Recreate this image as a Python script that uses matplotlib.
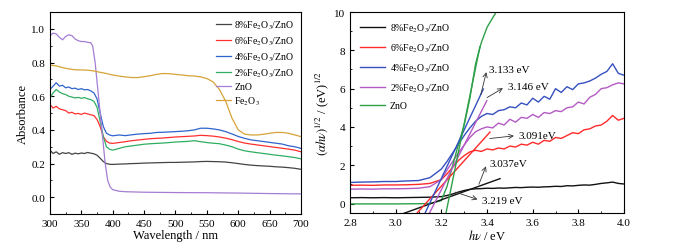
import matplotlib
matplotlib.use("Agg")
import matplotlib.pyplot as plt
from matplotlib.ticker import MultipleLocator

plt.rcParams.update({
    "font.family": "Liberation Serif",
    "mathtext.fontset": "stix",
    "font.size": 8,
    "xtick.direction": "in",
    "ytick.direction": "in",
    "axes.linewidth": 0.8,
})

# ---- left panel: UV-vis absorbance ----
labels_abs = [r"8%Fe$_2$O$_3$/ZnO", r"6%Fe$_2$O$_3$/ZnO", r"4%Fe$_2$O$_3$/ZnO",
              r"2%Fe$_2$O$_3$/ZnO", "ZnO", r"Fe$_2$O$_3$"]
colors_abs = ["#444444", "#ff3030", "#2f64cc", "#2fae62", "#a57ed4", "#d6a338"]

wl_doped = [300, 305, 310, 315, 320, 325, 330, 335, 340, 345, 350, 355, 360, 365, 370, 375,
            380, 385, 390, 395, 400, 410, 420, 430, 440, 450, 460, 470, 480, 490, 500, 510,
            520, 530, 540, 550, 560, 570, 580, 590, 600, 610, 620, 630, 640, 650, 660, 670,
            680, 690, 700]
abs_8 = [0.28, 0.26, 0.27, 0.255, 0.265, 0.26, 0.265, 0.255, 0.262, 0.258, 0.263, 0.26, 0.266, 0.262, 0.258, 0.25,
         0.232, 0.212, 0.2, 0.196, 0.195, 0.197, 0.198, 0.2, 0.201, 0.203, 0.204, 0.205, 0.206, 0.207, 0.207, 0.208,
         0.209, 0.21, 0.212, 0.213, 0.212, 0.211, 0.209, 0.205, 0.2, 0.195, 0.191, 0.188, 0.186, 0.184, 0.181, 0.179,
         0.176, 0.172, 0.166]
abs_6 = [0.55, 0.53, 0.54, 0.525, 0.52, 0.515, 0.5, 0.505, 0.495, 0.498, 0.492, 0.5, 0.495, 0.49, 0.485, 0.462,
         0.42, 0.36, 0.332, 0.322, 0.32, 0.325, 0.33, 0.336, 0.34, 0.344, 0.348, 0.35, 0.352, 0.355, 0.358, 0.36,
         0.362, 0.364, 0.368, 0.366, 0.363, 0.358, 0.351, 0.342, 0.331, 0.322, 0.316, 0.311, 0.306, 0.301, 0.296, 0.291,
         0.286, 0.28, 0.27]
abs_4 = [0.64, 0.66, 0.68, 0.66, 0.665, 0.65, 0.655, 0.645, 0.648, 0.64, 0.645, 0.638, 0.64, 0.632, 0.62, 0.585,
         0.5, 0.42, 0.38, 0.37, 0.365, 0.37, 0.366, 0.371, 0.375, 0.378, 0.38, 0.385, 0.386, 0.388, 0.39, 0.392,
         0.395, 0.4, 0.41, 0.41, 0.406, 0.4, 0.39, 0.376, 0.361, 0.35, 0.341, 0.336, 0.331, 0.326, 0.321, 0.316,
         0.306, 0.3, 0.29]
abs_2 = [0.59, 0.62, 0.64, 0.625, 0.615, 0.61, 0.6, 0.595, 0.59, 0.593, 0.588, 0.592, 0.585, 0.58, 0.57, 0.535,
         0.45, 0.36, 0.3, 0.285, 0.28, 0.29, 0.3, 0.305, 0.31, 0.315, 0.318, 0.32, 0.322, 0.325, 0.328, 0.33,
         0.332, 0.336, 0.33, 0.325, 0.321, 0.318, 0.31, 0.3, 0.286, 0.276, 0.27, 0.265, 0.26, 0.255, 0.25, 0.246,
         0.241, 0.236, 0.228]

wl_zno = [300, 305, 310, 315, 320, 325, 330, 335, 340, 345, 350, 355, 360, 365, 368, 372,
          376, 380, 384, 388, 392, 396, 400, 410, 420, 450, 500, 550, 600, 650, 700]
abs_zno = [0.96, 0.975, 0.97, 0.95, 0.935, 0.955, 0.965, 0.96, 0.94, 0.93, 0.925, 0.925, 0.92, 0.918, 0.9, 0.8,
           0.65, 0.5, 0.35, 0.2, 0.1, 0.06, 0.045, 0.036, 0.033, 0.03, 0.028, 0.027, 0.025, 0.022, 0.02]

wl_fe = [300, 310, 320, 330, 340, 350, 360, 370, 380, 390, 400, 410, 420, 430, 440, 450,
         460, 470, 480, 490, 500, 510, 520, 530, 540, 550, 560, 570, 580, 590, 600, 610,
         620, 630, 640, 650, 660, 670, 680, 690, 700]
abs_fe = [0.785, 0.78, 0.77, 0.762, 0.757, 0.756, 0.755, 0.75, 0.742, 0.735, 0.726, 0.72, 0.715, 0.711, 0.711, 0.716,
          0.722, 0.73, 0.735, 0.734, 0.73, 0.726, 0.722, 0.72, 0.715, 0.705, 0.685, 0.64, 0.57, 0.47, 0.4, 0.375,
          0.37, 0.37, 0.374, 0.38, 0.385, 0.385, 0.38, 0.37, 0.36]

# ---- right panel: Tauc plot ----
labels_tauc = [r"8%Fe$_2$O$_3$/ZnO", r"6%Fe$_2$O$_3$/ZnO", r"4%Fe$_2$O$_3$/ZnO",
               r"2%Fe$_2$O$_3$/ZnO", "ZnO"]
colors_tauc = ["#111111", "#ff2a2a", "#3550c0", "#b45ac4", "#2ea04a"]

hv = [2.80, 2.85, 2.90, 2.95, 3.00, 3.05, 3.10, 3.15, 3.20,
      3.225, 3.25, 3.275, 3.30, 3.325, 3.35, 3.375, 3.40, 3.425, 3.45, 3.475, 3.50, 3.525, 3.55, 3.575,
      3.60, 3.625, 3.65, 3.675, 3.70, 3.725, 3.75, 3.775, 3.80, 3.825, 3.85, 3.875, 3.90, 3.925, 3.95, 3.975, 4.00]
tauc_8 = [0.30, 0.31, 0.30, 0.31, 0.30, 0.31, 0.32, 0.33, 0.36,
          0.42, 0.50, 0.60, 0.68, 0.74, 0.77, 0.78, 0.80, 0.79, 0.81, 0.80, 0.82, 0.84, 0.83, 0.85,
          0.86, 0.85, 0.87, 0.88, 0.90, 0.89, 0.93, 0.92, 0.95, 0.97, 0.96, 1.00, 1.05, 1.08, 1.12, 1.05, 1.02]
tauc_6 = [0.95, 0.96, 0.95, 0.97, 0.97, 0.98, 1.00, 1.05, 1.25,
          1.55, 1.90, 2.25, 2.50, 2.70, 2.78, 2.72, 2.85, 2.80, 2.90, 2.85, 3.00, 2.95, 3.10, 3.05,
          3.20, 3.10, 3.30, 3.25, 3.45, 3.40, 3.55, 3.70, 3.65, 3.85, 3.90, 4.05, 4.10, 4.30, 4.60, 4.35, 4.45]
tauc_4 = [1.10, 1.12, 1.13, 1.15, 1.15, 1.18, 1.20, 1.35, 1.80,
          2.20, 2.65, 3.10, 3.55, 3.95, 4.30, 4.55, 4.70, 4.65, 4.85, 4.90, 5.05, 5.00, 5.25, 5.15,
          5.50, 5.30, 5.60, 5.45, 6.00, 5.80, 6.10, 5.95, 6.25, 6.30, 6.40, 6.55, 6.75, 6.90, 7.30, 6.80, 6.70]
tauc_2 = [0.75, 0.76, 0.75, 0.77, 0.77, 0.78, 0.80, 0.88, 1.25,
          1.75, 2.20, 2.65, 3.05, 3.45, 3.75, 3.90, 4.00, 3.95, 4.20, 4.10, 4.40, 4.25, 4.50, 4.45,
          4.65, 4.50, 4.75, 4.70, 4.85, 4.80, 5.00, 5.05, 5.30, 5.20, 5.55, 5.70, 6.00, 6.05, 6.20, 6.30, 6.25]
hv_zno = [2.80, 3.00, 3.10, 3.15, 3.20, 3.225, 3.25, 3.275, 3.30, 3.325, 3.35, 3.375, 3.40, 3.425, 3.45]
tauc_zno = [-0.02, -0.02, -0.01, 0.0, 0.15, 0.9, 2.0, 3.1, 4.1, 5.5, 7.3, 8.4, 9.2, 9.7, 10.2]

# tangent lines (start hv, start y, end hv, end y), same order as labels_tauc
tan_x0 = [3.034, 3.092, 3.128, 3.147, 3.220]
tan_y0 = [-0.52, -0.52, -0.52, -0.52, -0.52]
tan_x1 = [3.457, 3.413, 3.384, 3.399, 3.369]
tan_y1 = [1.30, 3.73, 5.98, 5.37, 8.20]

# band gap annotations: text, arrow tail, text position
gap_text = ["3.133 eV", "3.146 eV", "3.091eV", "3.037eV", "3.219 eV"]
gap_tail_x = [3.37, 3.39, 3.40, 3.36, 3.25]
gap_tail_y = [5.55, 5.46, 3.38, 0.87, 0.64]
gap_txt_x = [3.41, 3.49, 3.54, 3.41, 3.38]
gap_txt_y = [7.0, 6.1, 3.55, 2.08, 0.17]

fig = plt.figure(figsize=(6.75, 2.51), dpi=100)

# left panel
ax1 = fig.add_axes([0.074, 0.143, 0.372, 0.805])
series_abs = [(wl_doped, abs_8), (wl_doped, abs_6), (wl_doped, abs_4), (wl_doped, abs_2),
              (wl_zno, abs_zno), (wl_fe, abs_fe)]
for (x, y), lab, c in zip(series_abs, labels_abs, colors_abs):
    ax1.plot(x, y, color=c, lw=0.9, label=lab)
ax1.set_xlim(300, 700)
ax1.set_ylim(-0.1, 1.1)
ax1.xaxis.set_major_locator(MultipleLocator(50))
ax1.xaxis.set_minor_locator(MultipleLocator(25))
ax1.yaxis.set_major_locator(MultipleLocator(0.2))
ax1.yaxis.set_minor_locator(MultipleLocator(0.1))
ax1.yaxis.set_major_formatter(plt.FormatStrFormatter("%.1f"))
ax1.tick_params(which="major", length=3)
ax1.tick_params(which="minor", length=1.5)
ax1.set_xlabel("Wavelength / nm", fontsize=9, labelpad=1)
ax1.set_ylabel("Absorbance", fontsize=9, labelpad=2)
ax1.legend(loc="upper right", frameon=False, fontsize=7, handlelength=1.6,
           handletextpad=0.3, labelspacing=0.35, borderaxespad=0.3)

# right panel
ax2 = fig.add_axes([0.5185, 0.147, 0.406, 0.801])
series_tauc = [(hv, tauc_8), (hv, tauc_6), (hv, tauc_4), (hv, tauc_2), (hv_zno, tauc_zno)]
for (x, y), lab, c in zip(series_tauc, labels_tauc, colors_tauc):
    ax2.plot(x, y, color=c, lw=1.0, label=lab)
for i, c in enumerate(colors_tauc):
    ax2.plot([tan_x0[i], tan_x1[i]], [tan_y0[i], tan_y1[i]], color=c, lw=1.0)
for i in range(len(gap_text)):
    ax2.annotate("", xy=(gap_txt_x[i] - 0.01, gap_txt_y[i]), xytext=(gap_tail_x[i], gap_tail_y[i]),
                 arrowprops=dict(arrowstyle="->", color="#333333", lw=0.6))
    ax2.text(gap_txt_x[i], gap_txt_y[i], gap_text[i], fontsize=8, va="center", ha="left")
ax2.set_xlim(2.8, 4.0)
ax2.set_ylim(-0.5, 10)
ax2.xaxis.set_major_locator(MultipleLocator(0.2))
ax2.xaxis.set_minor_locator(MultipleLocator(0.1))
ax2.yaxis.set_major_locator(MultipleLocator(2))
ax2.yaxis.set_minor_locator(MultipleLocator(1))
ax2.xaxis.set_major_formatter(plt.FormatStrFormatter("%.1f"))
ax2.tick_params(which="major", length=3)
ax2.tick_params(which="minor", length=1.5)
ax2.set_xlabel(r"$h\nu$ / eV", fontsize=9, labelpad=1)
ax2.set_ylabel(r"$(\alpha h\nu)^{1/2}$ / (eV)$^{1/2}$", fontsize=9, labelpad=2)
ax2.legend(loc="upper left", frameon=False, fontsize=7, handlelength=2.6,
           handletextpad=0.5, labelspacing=0.75, borderaxespad=0.6)

fig.savefig("out.png", dpi=100)
